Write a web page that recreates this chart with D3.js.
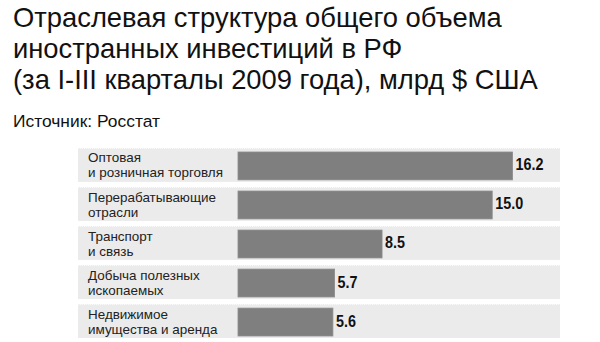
<!DOCTYPE html>
<html><head><meta charset="utf-8">
<script src="https://cdn.jsdelivr.net/npm/d3@7"></script>
<style>
html,body{margin:0;padding:0;background:#fff;}
svg{display:block;}
</style></head>
<body>
<svg id="chart" width="600" height="342"></svg>
<script>
const titleLines = ["Отраслевая структура общего объема", "иностранных инвестиций в РФ", "(за I-III кварталы 2009 года), млрд $ США"];
const sourceText = "Источник: Росстат";
const categories = [
  ["Оптовая", "и розничная торговля"],
  ["Перерабатывающие", "отрасли"],
  ["Транспорт", "и связь"],
  ["Добыча полезных", "ископаемых"],
  ["Недвижимое", "имущества и аренда"]
];
const values = [16.2, 15.0, 8.5, 5.7, 5.6];
const valueLabels = ["16.2", "15.0", "8.5", "5.7", "5.6"];

const svg = d3.select("#chart");
const FONT = "'Liberation Sans', Arial, Helvetica, sans-serif";

// Title
const tg = svg.append("g");
const tTexts = tg.selectAll("text").data(titleLines).join("text")
  .attr("x", 0).attr("y", (d, i) => 27 + i * 31)
  .attr("font-family", FONT)
  .attr("font-size", 28.5).attr("fill", "#111").text(d => d);
const w3 = tTexts.nodes()[2].getComputedTextLength();
tg.attr("transform", `translate(13,0) scale(${525 / w3},1)`);

const sg = svg.append("g");
const sT = sg.append("text").attr("x", 0).attr("y", 127)
  .attr("font-family", FONT)
  .attr("font-size", 16.5).attr("fill", "#111").text(sourceText);
sg.attr("transform", `translate(13,0) scale(${147 / sT.node().getComputedTextLength()},1)`);

// Chart
const x = d3.scaleLinear().domain([0, 19]).range([238, 560]);
const y = d3.scaleBand().domain(d3.range(values.length)).range([148, 148 + 38 * values.length]).paddingInner(5 / 38).paddingOuter(0);
const rowX0 = 78;

const rows = svg.append("g").selectAll("g").data(values).join("g")
  .attr("transform", (d, i) => `translate(0,${y(i)})`);

rows.append("rect").attr("x", rowX0).attr("y", 0)
  .attr("width", x.range()[1] - rowX0).attr("height", y.bandwidth())
  .attr("fill", "#ebebeb");
rows.append("line").attr("x1", rowX0).attr("x2", x.range()[1]).attr("y1", 0.5).attr("y2", 0.5)
  .attr("stroke", "#fafafa").attr("stroke-dasharray", "1,1");

const barPad = 4;
rows.append("rect").attr("x", x(0)).attr("y", barPad)
  .attr("width", d => x(d) - x(0)).attr("height", y.bandwidth() - 2 * barPad + 2)
  .attr("fill", "#7f7f7f").attr("stroke", "#8c8c8c").attr("stroke-width", 0.8);

const vg = rows.append("g").attr("transform", d => `translate(${x(d) + 3},0)`);
const vT = vg.append("text").attr("x", 0).attr("y", y.bandwidth() / 2 + 5.5)
  .attr("font-family", FONT)
  .attr("font-weight", "bold").attr("font-size", 16).attr("fill", "#111")
  .text((d, i) => valueLabels[i]);
const vr = 28 / vT.nodes()[0].getComputedTextLength();
vg.attr("transform", d => `translate(${x(d) + 3},0) scale(${vr},1)`);

const labelG = rows.append("g");
labelG.selectAll("text").data((d, i) => categories[i]).join("text")
  .attr("x", 0).attr("y", (d, j) => 14.5 + j * 15)
  .attr("font-family", FONT)
  .attr("font-size", 13).attr("fill", "#222").text(d => d);
const refW = labelG.nodes()[0].querySelectorAll("text")[1].getComputedTextLength();
labelG.attr("transform", `translate(88,0) scale(${135 / refW},1)`);
</script>
</body></html>
